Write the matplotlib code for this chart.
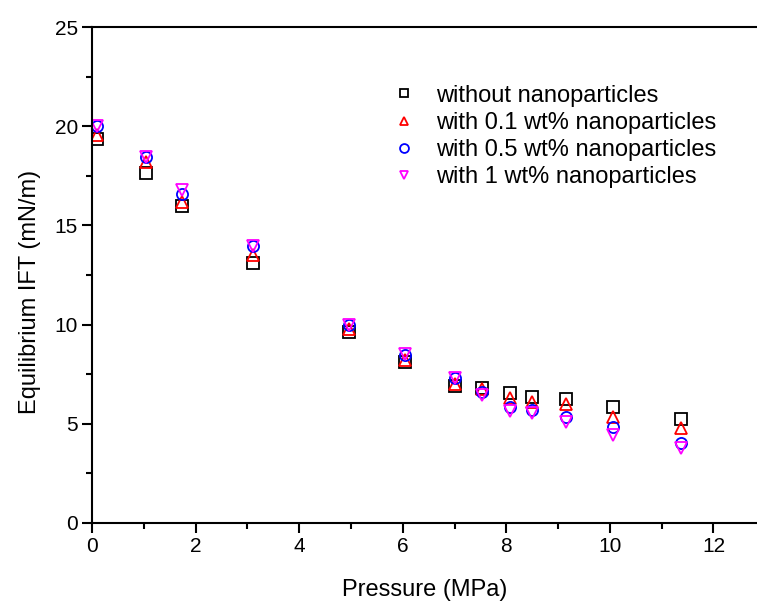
import matplotlib
matplotlib.use("Agg")
import matplotlib.pyplot as plt
from matplotlib.ticker import MultipleLocator

plt.rcParams['font.family'] = ['Liberation Sans', 'DejaVu Sans']

# pressure (MPa) for each measurement group
pressure = [0.1, 1.05, 1.74, 3.1, 4.96, 6.04, 7.01, 7.53, 8.07, 8.49, 9.15, 10.06, 11.37]

# equilibrium IFT (mN/m)
ift_none = [19.35, 17.64, 15.98, 13.1, 9.63, 8.12, 6.9, 6.8, 6.55, 6.35, 6.25, 5.85, 5.24]
ift_01 = [19.55, 18.2, 16.2, 13.5, 9.78, 8.2, 7.0, 6.75, 6.3, 6.1, 6.0, 5.35, 4.8]
ift_05 = [20.0, 18.45, 16.6, 13.96, 9.98, 8.47, 7.3, 6.6, 5.85, 5.7, 5.35, 4.85, 4.03]
ift_1 = [20.0, 18.45, 16.8, 13.96, 9.98, 8.5, 7.3, 6.45, 5.64, 5.53, 5.1, 4.43, 3.78]

labels = ["without nanoparticles", "with 0.1 wt% nanoparticles",
          "with 0.5 wt% nanoparticles", "with 1 wt% nanoparticles"]

fig = plt.figure(figsize=(7.57, 6.03), dpi=100)
ax = fig.add_axes([0.1215, 0.1327, 0.8785, 0.8223])

series = [(ift_none, 's', 'black'), (ift_01, '^', 'red'),
          (ift_05, 'o', 'blue'), (ift_1, 'v', 'magenta')]
for (vals, mk, col), lab in zip(series, labels):
    ax.plot(pressure, vals, linestyle='none', marker=mk, markersize=8,
            markerfacecolor='none', markeredgecolor=col, markeredgewidth=1.3, label=lab)

ax.set_xlim(0, 12.84)
ax.set_ylim(0, 25)
ax.xaxis.set_major_locator(MultipleLocator(2))
ax.xaxis.set_minor_locator(MultipleLocator(1))
ax.yaxis.set_major_locator(MultipleLocator(5))
ax.yaxis.set_minor_locator(MultipleLocator(2.5))
ax.tick_params(which='both', direction='out', width=1.5, labelsize=15, pad=3)
ax.tick_params(which='major', length=7)
ax.tick_params(which='minor', length=4)
ax.spines['right'].set_visible(False)
for s in ['left', 'bottom', 'top']:
    ax.spines[s].set_linewidth(1.5)

ax.set_xlabel("Pressure (MPa)", fontsize=17, labelpad=17)
ax.set_ylabel("Equilibrium IFT (mN/m)", fontsize=17)
ax.yaxis.set_label_coords(-0.076, 0.466)

ax.legend(loc='upper left', bbox_to_anchor=(0.4375, 0.903), frameon=False, fontsize=17,
          handlelength=1.0, handletextpad=0.85, labelspacing=0.22, markerscale=0.8,
          borderaxespad=0)

fig.savefig("out.png", dpi=100)
